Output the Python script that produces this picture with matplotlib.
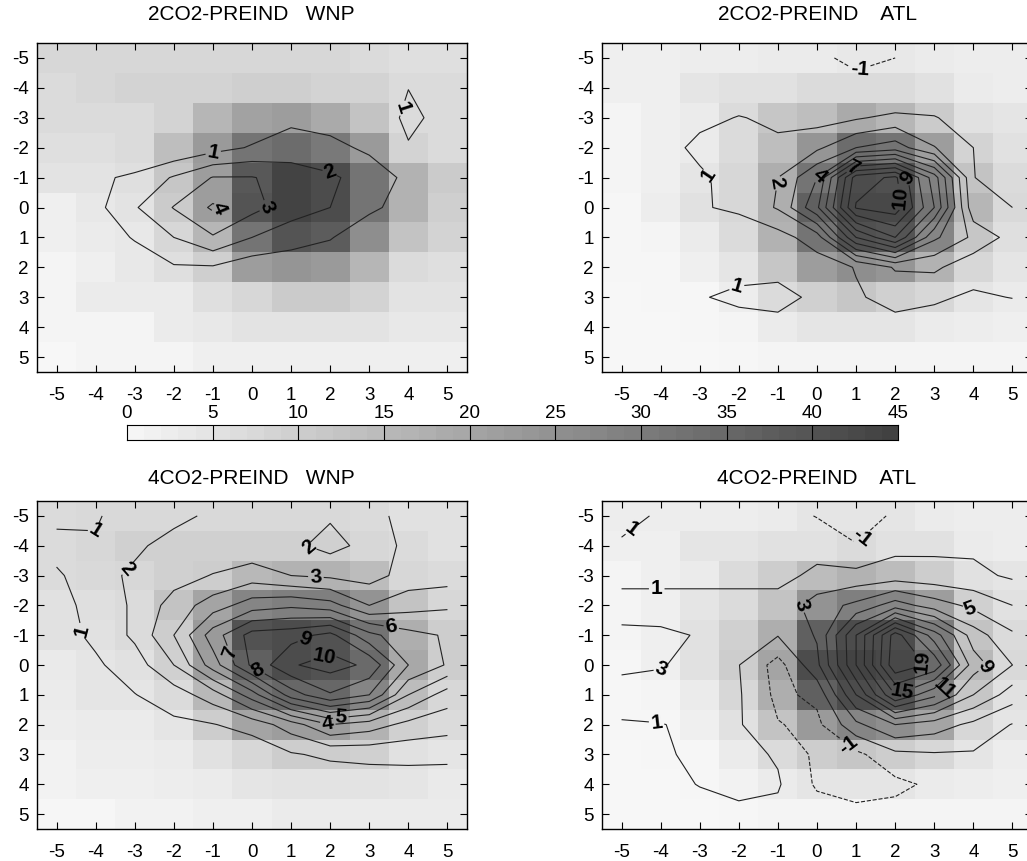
import numpy as np
import matplotlib
matplotlib.use("Agg")
import matplotlib.pyplot as plt
from matplotlib import font_manager
from matplotlib.colors import LinearSegmentedColormap

# grid offsets (both axes)
offsets = np.arange(-5, 6)
cbar_ticks = np.arange(0, 50, 5)

titles = ["2CO2-PREIND   WNP", "2CO2-PREIND    ATL", "4CO2-PREIND   WNP", "4CO2-PREIND    ATL"]

# shaded field (0-45), rows = y from -5 to 5, columns = x from -5 to 5
shade_2co2_wnp = [
    [8, 8, 8, 8, 8, 8, 8, 8, 7, 6, 6],
    [7, 8, 9, 9, 9, 10, 10, 9, 9, 7, 7],
    [7, 7, 7, 9, 16, 21, 22, 19, 13, 7, 7],
    [6, 6, 7, 14, 23, 32, 34, 31, 23, 9, 7],
    [5, 5, 6, 12, 22, 39, 44, 42, 32, 17, 11],
    [2, 4, 5, 11, 22, 40, 44, 42, 32, 17, 10],
    [2, 3, 4, 8, 16, 32, 40, 38, 26, 13, 9],
    [1, 2, 4, 6, 10, 22, 24, 23, 16, 7, 6],
    [1, 3, 3, 3, 6, 8, 11, 11, 9, 5, 5],
    [1, 1, 1, 3, 4, 5, 5, 5, 5, 4, 4],
    [0, 1, 1, 1, 2, 2, 2, 2, 2, 2, 2],
]
shade_2co2_atl = [
    [2, 2, 2.5, 2.5, 3, 3, 4, 4, 3, 2.5, 2.5],
    [2, 2, 4.5, 5.5, 5.5, 7, 7, 7, 5.5, 3, 2.5],
    [1, 2, 3, 7, 12, 14, 19, 16, 11, 5.5, 4.5],
    [1, 2, 3, 7, 14, 24, 34, 32, 22, 9, 5.5],
    [1, 2, 4.5, 8, 18, 32, 42, 41, 29, 13, 7],
    [0.5, 2.5, 5.5, 8, 18, 37, 43, 43, 32, 16, 7.5],
    [0.5, 1, 3, 7, 17, 32, 41, 40, 28, 12, 6],
    [0.5, 0.5, 2, 4.5, 12, 22, 26, 24, 17, 8, 4.5],
    [0, 0.5, 0.5, 2.5, 7, 9.5, 12, 9.5, 8, 4.5, 3],
    [0, 0, 0.5, 1, 3, 4.5, 4.5, 4.5, 3, 2.5, 2],
    [0, 0, 0, 0.5, 1, 1, 1, 1, 1, 1, 1],
]
shade_4co2_wnp = [
    [7, 7.5, 7.5, 7.5, 7.5, 7.5, 7.5, 7.5, 7, 5.5, 5.5],
    [7, 8, 9.5, 9.5, 9.5, 9.5, 9.5, 9.5, 8, 7, 5.5],
    [7, 7.5, 8, 9.5, 10.5, 15.5, 17, 17, 14.5, 8, 7],
    [5.5, 6, 7, 13, 20.5, 28, 29.5, 29.5, 24.5, 13, 8],
    [5.5, 5.5, 7, 10.5, 23, 40.5, 42, 40.5, 32.5, 18, 10.5],
    [3.5, 4.5, 5.5, 9.5, 22, 37, 42, 40.5, 34.5, 19.5, 10.5],
    [3, 4.5, 4.5, 7, 15.5, 32.5, 35.5, 35.5, 28, 14.5, 8],
    [2.5, 3, 3, 4.5, 10.5, 20.5, 22, 22, 17, 9.5, 7],
    [1.5, 2.5, 2.5, 3, 5.5, 8, 10.5, 10.5, 9.5, 5.5, 4.5],
    [1.5, 2, 2, 2.5, 3, 4.5, 5, 5, 5, 4.5, 3.5],
    [0.5, 0.5, 1.5, 1.5, 2, 2, 3, 3, 3, 3, 3],
]
shade_4co2_atl = [
    [2.5, 2.5, 2.5, 2.5, 3, 4.5, 4.5, 4.5, 3, 2.5, 2.5],
    [2, 2, 4.5, 4.5, 5.5, 5.5, 7, 5.5, 5.5, 3, 2.5],
    [1, 2, 3, 7, 10.5, 14.5, 17, 14.5, 10.5, 5.5, 4.5],
    [1, 2, 4.5, 7, 13, 24.5, 29.5, 28, 22, 9.5, 5.5],
    [1, 2, 5.5, 9.5, 18, 37, 42, 42, 30.5, 13, 7],
    [0.5, 2, 5.5, 10.5, 20.5, 42, 44, 43, 34.5, 15.5, 7.5],
    [0.5, 1, 3, 8, 18, 37, 42, 40.5, 29.5, 12, 5.5],
    [0.5, 0.5, 2, 5.5, 13, 23, 28, 26, 20.5, 8, 4.5],
    [0, 0.5, 0.5, 3, 7, 10.5, 12, 10.5, 8, 4.5, 2.5],
    [0, 0, 0.5, 1.5, 3, 4.5, 4.5, 4.5, 3, 2.5, 2],
    [0, 0, 0, 0.5, 1, 1, 1, 1, 1, 1, 1],
]

# contoured field, same layout
cont_2co2_wnp = [
    [0.0, 0.1, 0.1, 0.1, 0.1, 0.1, 0.2, 0.2, 0.3, 0.4, 0.3],
    [0.0, 0.1, 0.1, 0.1, 0.1, 0.2, 0.3, 0.4, 0.5, 0.98, 0.5],
    [0.0, 0.0, 0.0, 0.0, 0.1, 0.2, 0.8, 0.55, 0.0, 1.3, 0.55],
    [0.0, 0.0, 0.0, 0.1, 0.6, 1.1, 1.4, 1.3, 0.8, 0.9, 0.5],
    [0.1, 0.8, 1.2, 2.1, 3.05, 3.05, 2.6, 2.15, 1.6, 0.75, 0.4],
    [0.2, 0.7, 1.9, 3.05, 4.15, 3.3, 2.5, 2.0, 1.15, 0.7, 0.4],
    [0.1, 0.3, 1.1, 2.0, 2.9, 2.0, 1.4, 1.05, 0.5, 0.4, 0.3],
    [0.0, 0.1, 0.3, 0.9, 0.9, 0.39, 0.45, 0.5, 0.3, 0.2, 0.2],
    [0.0, 0.0, 0.1, 0.2, 0.3, 0.3, 0.3, 0.3, 0.2, 0.1, 0.1],
    [0.0, 0.0, 0.0, 0.1, 0.1, 0.1, 0.1, 0.1, 0.1, 0.1, 0.0],
    [0.0, 0.0, 0.0, 0.0, 0.0, 0.0, 0.0, 0.0, 0.0, 0.0, 0.0],
]
cont_2co2_atl = [
    [0.1, 0.1, 0.1, 0.1, 0.0, -0.6, -1.5, -1.0, -0.4, 0.0, 0.1],
    [0.2, 0.3, 0.5, 0.3, 0.4, 0.3, -0.3, -0.5, 0.3, 0.4, 0.3],
    [0.3, 0.4, 0.7, 1.05, 0.8, 0.6, 0.88, 1.3, 1.05, 0.6, 0.5],
    [0.2, 0.5, 1.3, 1.4, 1.2, 1.8, 3.0, 3.5, 2.05, 1.0, 0.7],
    [0.1, 0.4, 0.8, 1.5, 2.0, 4.0, 9.5, 10.2, 6.5, 1.02, 0.6],
    [0.1, 0.3, 0.9, 1.2, 2.1, 4.8, 10.1, 10.6, 7.0, 1.3, 1.0],
    [0.0, 0.1, 0.3, 0.3, 0.6, 1.5, 6.0, 8.0, 4.2, 2.8, 1.6],
    [0.0, 0.1, 0.3, 0.5, 0.5, 0.5, 1.05, 2.1, 2.2, 1.3, 1.1],
    [0.0, 0.1, 0.9, 1.3, 1.5, 0.67, 0.9, 1.3, 1.1, 0.9, 1.02],
    [0.0, 0.0, 0.2, 0.4, 0.5, 0.5, 0.6, 0.7, 0.7, 0.6, 0.5],
    [0.0, 0.0, 0.1, 0.2, 0.2, 0.2, 0.2, 0.2, 0.2, 0.2, 0.2],
]
cont_4co2_wnp = [
    [0.6, 0.9, 1.5, 1.85, 2.1, 2.2, 2.2, 2.1, 2.8, 3.2, 3.3],
    [1.5, 1.1, 1.9, 2.2, 2.3, 2.3, 2.2, 1.7, 2.3, 3.3, 3.4],
    [0.8, 1.8, 2.1, 2.6, 3.05, 3.5, 3.0, 2.8, 2.6, 3.4, 3.5],
    [0.8, 1.2, 2.2, 3.4, 4.5, 5.5, 5.8, 5.4, 4.0, 4.6, 4.85],
    [0.6, 1.2, 2.2, 4.0, 6.5, 8.4, 8.6, 9.3, 7.3, 6.3, 5.9],
    [0.4, 0.85, 1.5, 3.0, 5.5, 8.2, 9.9, 10.4, 9.8, 7.0, 5.9],
    [0.3, 0.6, 0.97, 1.5, 2.5, 4.5, 7.5, 8.9, 8.0, 5.0, 3.5],
    [0.2, 0.4, 0.7, 0.8, 0.95, 1.4, 2.5, 4.0, 3.5, 2.7, 2.4],
    [0.1, 0.2, 0.3, 0.4, 0.5, 0.3, 0.9, 1.2, 1.3, 1.35, 1.3],
    [0.1, 0.1, 0.2, 0.2, 0.2, 0.2, 0.2, 0.3, 0.4, 0.4, 0.4],
    [0.0, 0.1, 0.1, 0.1, 0.1, 0.1, 0.1, 0.2, 0.2, 0.2, 0.2],
]
cont_4co2_atl = [
    [1.5, 0.8, 0.5, 0.3, 0.0, -1.1, -2.0, -0.7, 0.3, 0.4, 0.3],
    [0.8, 0.6, 0.5, 0.4, 0.3, 0.5, -0.9, 0.5, 0.6, 0.6, 0.5],
    [0.6, 0.6, 0.6, 0.6, 0.6, 1.3, 1.6, 1.9, 1.7, 1.5, 0.7],
    [1.5, 1.5, 1.5, 1.5, 1.5, 4.0, 5.5, 8.0, 6.0, 4.5, 3.0],
    [3.8, 3.6, 2.8, 1.5, 1.1, 3.2, 11.0, 20.0, 14.0, 8.0, 5.3],
    [3.5, 3.2, 2.0, 1.05, -1.8, 2.5, 11.0, 20.5, 18.5, 10.0, 7.0],
    [2.0, 1.8, 1.6, 1.2, -1.5, -0.5, 7.0, 15.0, 11.5, 7.0, 4.0],
    [0.8, 0.95, 1.3, 1.2, -0.9, -1.5, 2.5, 5.0, 4.0, 2.5, 0.9],
    [0.5, 0.8, 1.3, 1.6, 0.8, -1.5, -1.5, 0.5, 0.8, 0.8, 0.5],
    [0.4, 0.6, 1.05, 1.5, 1.2, -1.3, -1.8, -1.5, -0.6, 0.4, 0.4],
    [0.3, 0.4, 0.5, 0.6, 0.5, 0.0, -0.5, -0.3, 0.0, 0.3, 0.3],
]

levels_a = [1, 2, 3, 4, 5, 6, 7, 8, 9, 10]
levels_b = [1, 3, 5, 7, 9, 11, 13, 15, 17, 19]

# contour labels: (level, x, y)
labels_2co2_wnp = [(1, -1.0, -1.9), (2, 2.0, -1.2), (3, 0.42, 0.0), (4, -0.86, 0.0),
                   (1, 3.9, -3.3)]
labels_2co2_atl = [(1, -2.83, -1.0), (2, -1.0, -0.82), (4, 0.08, -1.0), (7, 0.92, -1.33),
                   (9, 2.68, -1.12), (10, 2.08, -0.33), (1, -2.1, 2.5), (-1, 1.1, -4.6)]
labels_4co2_wnp = [(1, -4.0, -4.5), (2, -3.2, -3.24), (1, -4.62, -1.08), (2, 1.42, -3.8),
                   (3, 1.63, -2.85), (6, 3.56, -1.25), (7, -0.55, -0.41), (8, 0.26, -0.08),
                   (9, 1.5, -0.41), (10, 1.89, -0.08), (4, 1.93, 2.03), (5, 2.27, 1.76)]
labels_4co2_atl = [(1, -4.85, -4.74), (1, -4.1, -2.5), (3, -0.6, -2.0), (5, 3.9, -1.8),
                   (3, -4.0, 0.1), (9, 4.26, 0.0), (19, 2.8, -0.2), (15, 2.2, 0.97),
                   (11, 3.28, 0.8), (1, -4.1, 1.9), (-1, 1.2, -4.2), (-1, 0.8, 2.7)]

names = {f.name for f in font_manager.fontManager.ttflist}
plt.rcParams["font.family"] = "Liberation Sans" if "Liberation Sans" in names else "DejaVu Sans"
plt.rcParams["axes.unicode_minus"] = False

grays = LinearSegmentedColormap.from_list("grays", [(0.97, 0.97, 0.97), (0.25, 0.25, 0.25)])

W, H = 1027, 861
fig = plt.figure(figsize=(W / 100, H / 100), dpi=100)


def box(left, top, width, height):
    return [left / W, 1 - (top + height) / H, width / W, height / H]


def draw_panel(ax, shade, field, levels, labels):
    ax.pcolormesh(offsets, offsets, np.array(shade), cmap=grays, vmin=0, vmax=45,
                  shading="nearest")
    field = np.array(field)
    label_levels = sorted({lev for lev, _, _ in labels})
    plain = [lev for lev in levels if lev not in label_levels]
    ax.contour(offsets, offsets, field, levels=plain, colors="#222222", linewidths=0.8)
    # labelled levels get their own contour set so each label lands on its own line
    for lev in label_levels:
        style = "dashed" if lev < 0 else "solid"
        cs = ax.contour(offsets, offsets, field, levels=[lev], colors="#222222",
                        linewidths=0.8, linestyles=style)
        pts = [(x, y) for l, x, y in labels if l == lev]
        txt = ax.clabel(cs, fmt="%d", manual=pts, fontsize=15, inline=True,
                        inline_spacing=2, colors="black")
        for t in txt:
            t.set_fontweight("bold")
    ax.set_xlim(-5.5, 5.5)
    ax.set_ylim(5.5, -5.5)
    ax.set_xticks(offsets)
    ax.set_yticks(offsets)
    ax.tick_params(direction="in", top=True, right=True, length=5, width=0.8,
                   labelsize=13.5, pad=6)
    ax.tick_params(axis="x", pad=11)
    for s in ax.spines.values():
        s.set_linewidth(1.0)


panels = [
    (box(37, 43, 430, 329), shade_2co2_wnp, cont_2co2_wnp, levels_a, labels_2co2_wnp),
    (box(602, 43, 430, 329), shade_2co2_atl, cont_2co2_atl, levels_a, labels_2co2_atl),
    (box(37, 501, 430, 328), shade_4co2_wnp, cont_4co2_wnp, levels_a, labels_4co2_wnp),
    (box(602, 501, 430, 328), shade_4co2_atl, cont_4co2_atl, levels_b, labels_4co2_atl),
]
for rect, shade, field, levels, labels in panels:
    ax = fig.add_axes(rect)
    draw_panel(ax, shade, field, levels, labels)

# panel titles
title_pos = [(251, 15), (817, 15), (251, 478), (817, 478)]
for (tx, ty), title in zip(title_pos, titles):
    fig.text(tx / W, 1 - ty / H, title, ha="center", va="center", fontsize=15)

# colour bar
cax = fig.add_axes(box(127, 425, 771, 15))
steps = np.arange(45) + 0.5
cax.imshow(steps[np.newaxis, :], cmap=grays, vmin=0, vmax=45, aspect="auto",
           extent=[0, 45, 0, 1])
for v in cbar_ticks[1:-1]:
    cax.axvline(v, color="black", linewidth=0.8)
cax.set_xlim(0, 45)
cax.set_yticks([])
cax.xaxis.tick_top()
cax.set_xticks(cbar_ticks)
cax.tick_params(axis="x", length=0, labelsize=13.5, pad=2)
for s in cax.spines.values():
    s.set_linewidth(0.8)

fig.savefig("out.png", dpi=100)
